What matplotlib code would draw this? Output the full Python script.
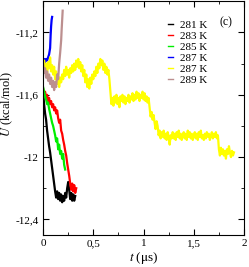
import numpy as np
import matplotlib
matplotlib.use("Agg")
import matplotlib.pyplot as plt
from matplotlib.ticker import MultipleLocator, FuncFormatter

plt.rcParams['font.family'] = ['Liberation Serif', 'DejaVu Serif']
plt.rcParams['mathtext.fontset'] = 'stix'

# energy traces U(t), t in microseconds
t_281 = np.arange(33) * 0.01
u_281 = [-11.58, -11.66, -11.72, -11.76, -11.83, -11.88, -11.93, -11.97, -12.02, -12.07,
         -12.12, -12.17, -12.22, -12.26, -12.22, -12.27, -12.23, -12.28, -12.24, -12.29,
         -12.25, -12.28, -12.23, -12.26, -12.20, -12.16, -12.21, -12.27, -12.23, -12.28,
         -12.24, -12.28, -12.25]

t_283 = np.arange(34) * 0.01
u_283 = [-11.56, -11.60, -11.58, -11.62, -11.60, -11.64, -11.62, -11.66, -11.64, -11.68,
         -11.66, -11.70, -11.68, -11.72, -11.70, -11.75, -11.78, -11.76, -11.83, -11.85,
         -11.89, -11.92, -11.96, -11.99, -12.04, -12.08, -12.12, -12.17, -12.21, -12.17,
         -12.22, -12.18, -12.23, -12.20]

t_285 = np.arange(23) * 0.01
u_285 = [-11.55, -11.58, -11.61, -11.63, -11.66, -11.65, -11.69, -11.72, -11.75, -11.78,
         -11.80, -11.83, -11.86, -11.90, -11.88, -11.95, -11.92, -11.98, -11.96, -12.01,
         -11.98, -12.05, -12.08]

t_287a = [0, 0.01, 0.02, 0.03, 0.04, 0.05, 0.06, 0.07, 0.075, 0.08, 0.085, 0.09]
u_287a = [-11.38, -11.37, -11.39, -11.37, -11.38, -11.36, -11.34, -11.30, -11.22, -11.16,
          -11.12, -11.10]

t_287b = np.arange(191) * 0.01
u_287b = [-11.44, -11.38, -11.46, -11.40, -11.47, -11.39, -11.43, -11.36, -11.45, -11.41,
          -11.47, -11.42, -11.50, -11.45, -11.53, -11.48, -11.55, -11.49, -11.52, -11.47,
          -11.50, -11.44, -11.48, -11.42, -11.47, -11.44, -11.49, -11.43, -11.46, -11.41,
          -11.45, -11.40, -11.44, -11.38, -11.42, -11.37, -11.43, -11.39, -11.45, -11.41,
          -11.48, -11.44, -11.52, -11.47, -11.55, -11.50, -11.56, -11.49, -11.53, -11.47,
          -11.50, -11.45, -11.48, -11.42, -11.46, -11.40, -11.43, -11.37, -11.41, -11.38,
          -11.44, -11.40, -11.46, -11.42, -11.47, -11.44, -11.50, -11.58, -11.66, -11.62,
          -11.67, -11.61, -11.65, -11.60, -11.66, -11.62, -11.68, -11.61, -11.64, -11.60,
          -11.65, -11.61, -11.66, -11.62, -11.64, -11.60, -11.65, -11.61, -11.63, -11.59,
          -11.64, -11.60, -11.63, -11.58, -11.62, -11.59, -11.64, -11.60, -11.62, -11.58,
          -11.63, -11.59, -11.64, -11.61, -11.65, -11.62, -11.68, -11.74, -11.71, -11.76,
          -11.73, -11.78, -11.82, -11.77, -11.80, -11.86, -11.83, -11.88, -11.84, -11.87,
          -11.83, -11.88, -11.85, -11.89, -11.84, -11.87, -11.92, -11.86, -11.88, -11.84,
          -11.88, -11.85, -11.89, -11.84, -11.87, -11.83, -11.88, -11.85, -11.89, -11.86,
          -11.84, -11.88, -11.85, -11.89, -11.83, -11.87, -11.84, -11.88, -11.85, -11.89,
          -11.86, -11.84, -11.88, -11.85, -11.89, -11.84, -11.87, -11.83, -11.88, -11.86,
          -11.89, -11.85, -11.88, -11.84, -11.87, -11.85, -11.89, -11.86, -11.84, -11.88,
          -11.85, -11.87, -11.84, -11.88, -11.86, -11.95, -11.99, -11.94, -11.98, -11.95,
          -11.99, -11.96, -12.01, -11.95, -11.98, -11.93, -11.97, -12.00, -11.96, -11.99,
          -11.97]

t_289 = [0, 0.01, 0.02, 0.03, 0.04, 0.05, 0.06, 0.07, 0.08, 0.09, 0.10, 0.11, 0.12,
         0.13, 0.14, 0.15, 0.16, 0.17, 0.18, 0.185, 0.19, 0.195]
u_289 = [-11.40, -11.46, -11.43, -11.49, -11.45, -11.51, -11.47, -11.53, -11.49, -11.55,
         -11.51, -11.57, -11.52, -11.55, -11.47, -11.50, -11.40, -11.33, -11.25, -11.18,
         -11.12, -11.06]

series = [
    (t_281, u_281, 'black', '281 K'),
    (t_283, u_283, 'red', '283 K'),
    (t_285, u_285, '#00ee00', '285 K'),
    (t_287a, u_287a, 'blue', '287 K'),
    (t_287b, u_287b, 'yellow', '287 K'),
    (t_289, u_289, '#bc8f8f', '289 K'),
]

fig = plt.figure(figsize=(2.49, 2.67), dpi=100)
ax = fig.add_axes([0.173, 0.12, 0.807, 0.875])

for t, u, c, lab in series:
    ax.plot(t, u, color=c, lw=1.6, label=lab)

ax.set_xlim(0, 2)
ax.set_ylim(-12.5, -11.0)
ax.xaxis.set_major_locator(MultipleLocator(0.5))
ax.xaxis.set_minor_locator(MultipleLocator(0.25))
ax.yaxis.set_major_locator(MultipleLocator(0.4))
ax.yaxis.set_minor_locator(MultipleLocator(0.2))

def comma(v, pos):
    s = ('%.1f' % v).rstrip('0').rstrip('.')
    return s.replace('.', ',')

ax.xaxis.set_major_formatter(FuncFormatter(comma))
ax.yaxis.set_major_formatter(FuncFormatter(comma))
ax.tick_params(which='both', direction='in', top=True, right=True, labelsize=8, pad=3)
ax.tick_params(which='major', length=4)
ax.tick_params(which='minor', length=2.5)

ax.set_xlabel(r'$t$ ($\mathrm{\mu}$s)', fontsize=9.5, labelpad=1)
ax.set_ylabel(r'$U$ (kcal/mol)', fontsize=9)
ax.yaxis.set_label_coords(-0.14, 0.56)

leg = ax.legend(loc='upper right', bbox_to_anchor=(0.84, 0.94), frameon=False, fontsize=8,
                handlelength=0.5, handletextpad=0.6, labelspacing=0.12, borderaxespad=0)
for h in leg.get_lines():
    h.set_linewidth(1.0)
ax.text(0.91, 0.91, '(c)', transform=ax.transAxes, fontsize=8.5, ha='center', va='center')

fig.savefig('out.png', dpi=100)
